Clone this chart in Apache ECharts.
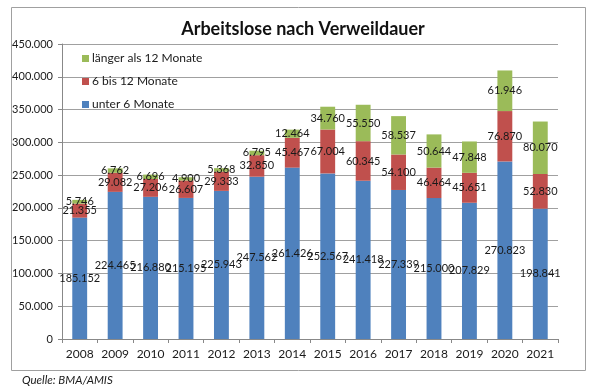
<!DOCTYPE html>
<html><head><meta charset="utf-8">
<script src="https://cdn.jsdelivr.net/npm/echarts@6/dist/echarts.min.js"></script>
<style>html,body{margin:0;padding:0;background:#fff}#c{width:604px;height:392px}</style>
</head><body><div id="c"></div>
<script>
var years = ['2008','2009','2010','2011','2012','2013','2014','2015','2016','2017','2018','2019','2020','2021'];
var unter6 = [185152,224465,216880,215195,225943,247562,261426,252567,241418,227339,215000,207829,270823,198841];
var sechsBis12 = [21355,29082,27206,26607,29333,32850,45467,67004,60345,54100,46464,45651,76870,52830];
var laenger12 = [5746,6762,6696,4900,5368,6795,12464,34760,55550,58537,50644,47848,61946,80070];
var seriesNames = ['unter 6 Monate','6 bis 12 Monate','länger als 12 Monate'];
var colors = ['#4F81BD','#C0504D','#9BBB59'];
var FONT = 'Lato, "Open Sans", sans-serif';
function de(v){ return String(v).replace(/\B(?=(\d{3})+(?!\d))/g,'.'); }
var chart = echarts.init(document.getElementById('c'), null, {renderer:'canvas'});
function mk(name, data, color){
  return {name:name, type:'bar', stack:'a', data:data, barWidth:'42%',
    itemStyle:{color:color},
    label:{show:true, position:'inside', color:'#1a1a1a', fontSize:11, fontFamily:FONT,
      formatter:function(p){return de(p.value);}}};
}
chart.setOption({
  animation:false,
  backgroundColor:'#fff',
  graphic:[
    {type:'rect', shape:{x:11.5,y:7.5,width:574,height:363}, style:{fill:'none', stroke:'#a0a0a0', lineWidth:1}, z:-1},
    {type:'text', left:22, top:374, style:{text:'Quelle: BMA/AMIS', fontStyle:'italic', fontSize:11.5, fontFamily:FONT, fill:'#1a1a1a'}}
  ],
  title:{text:'Arbeitslose nach Verweildauer', left:298, textAlign:'center', top:15,
    textStyle:{fontSize:18, fontWeight:'bold', fontFamily:FONT, color:'#111'}},
  legend:{orient:'vertical', left:77, top:46, itemWidth:7, itemHeight:7, itemGap:8,
    icon:'rect', data:['länger als 12 Monate','6 bis 12 Monate','unter 6 Monate'],
    textStyle:{fontSize:12, lineHeight:15, fontFamily:FONT, color:'#1a1a1a', padding:[0,0,0,-2]}},
  grid:{left:62, right:46, top:44, bottom:53},
  xAxis:{type:'category', data:years,
    axisLine:{lineStyle:{color:'#888'}},
    axisTick:{show:true, length:4, lineStyle:{color:'#888'}},
    axisLabel:{interval:0, fontSize:12, fontFamily:FONT, color:'#1a1a1a', margin:9}},
  yAxis:{type:'value', min:0, max:450000, interval:50000,
    axisLine:{show:true, lineStyle:{color:'#888'}},
    axisTick:{show:true, length:4, lineStyle:{color:'#888'}},
    splitLine:{lineStyle:{color:'#a0a0a0'}},
    axisLabel:{fontSize:11, fontFamily:FONT, color:'#1a1a1a', margin:9, formatter:function(v){return de(v);}}},
  series:[mk(seriesNames[0],unter6,colors[0]), mk(seriesNames[1],sechsBis12,colors[1]), mk(seriesNames[2],laenger12,colors[2])]
});
</script></body></html>
